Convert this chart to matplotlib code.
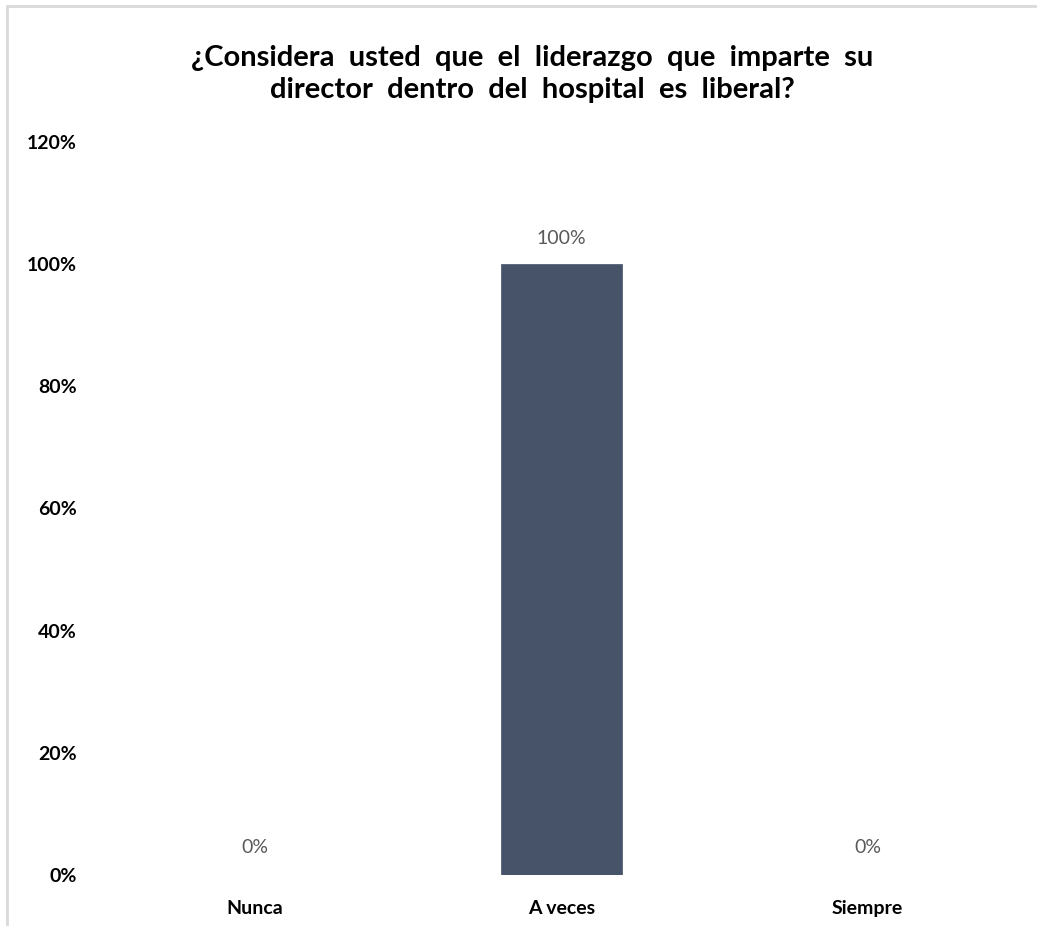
import matplotlib.pyplot as plt
from matplotlib.patches import Rectangle

categories = ['Nunca', 'A veces', 'Siempre']
values = [0.0, 1.0, 0.0]
y_ticks = [0, 0.2, 0.4, 0.6, 0.8, 1.0, 1.2]
title_lines = ['¿Considera usted que el liderazgo que imparte su',
               'director dentro del hospital es liberal?']

plt.rcParams['font.family'] = ['Lato', 'DejaVu Sans']

dpi = 100
fig = plt.figure(figsize=(1037 / dpi, 926 / dpi), dpi=dpi)
fig.patch.set_facecolor('white')

# light grey chart frame (cut off at right and bottom like the source)
frame = Rectangle((7 / 1037, -0.05), 1.1, 1.05 - 6 / 926, transform=fig.transFigure,
                  fill=False, edgecolor='#d9d9d9', linewidth=2, zorder=0)
fig.patches.append(frame)

ax = fig.add_axes([0.0984, 0.0551, 0.886, 0.7916])
xs = range(len(categories))
bars = ax.bar(xs, values, width=0.395, color='#465369', edgecolor='#465369',
              linewidth=0.5, zorder=2)

for x, v in zip(xs, values):
    ax.annotate('{:.0%}'.format(v), (x, v), xytext=(0, 12 if v > 0 else 14),
                textcoords='offset points', ha='center', va='bottom',
                fontsize=14, color='#595959')

ax.set_xlim(-0.5, len(categories) - 0.5)
ax.set_ylim(0, 1.2)
ax.set_xticks(list(xs))
ax.set_xticklabels(categories, fontsize=14, fontweight='bold')
ax.set_yticks(y_ticks)
ax.set_yticklabels(['{:.0%}'.format(t) for t in y_ticks], fontsize=14, fontweight='bold')
ax.tick_params(axis='both', length=0)
ax.tick_params(axis='x', pad=18)
ax.tick_params(axis='y', pad=18)
for s in ax.spines.values():
    s.set_visible(False)

# the source title is justified, so words sit wider apart
title = '\n'.join(line.replace(' ', '  ') for line in title_lines)
fig.text(0.513, 0.920, title, ha='center', va='center', fontsize=21,
         fontweight='bold', linespacing=1.3)

fig.savefig('out.png', dpi=dpi)
